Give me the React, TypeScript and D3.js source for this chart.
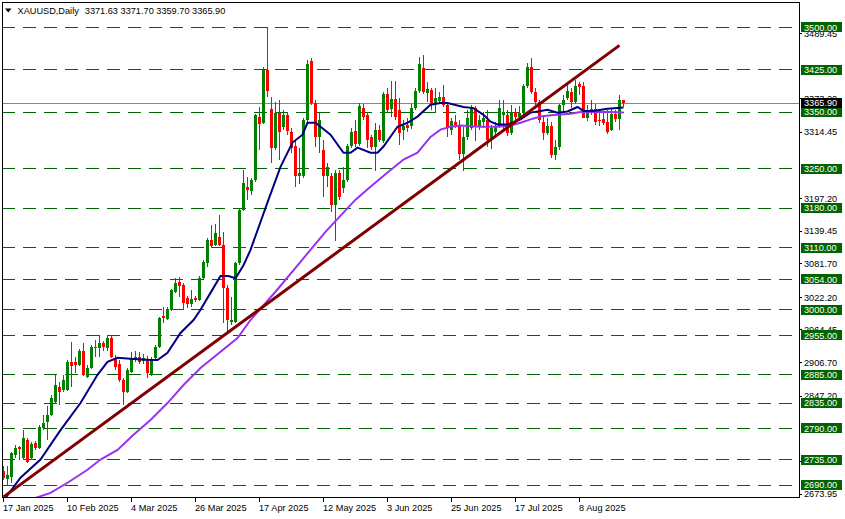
import React, { useEffect } from 'react';
import * as d3 from 'd3';

const W = 845;
const H = 519;

// Daily OHLC, 17 Jan 2025 .. 25 Aug 2025
const opens = [
  2715, 2700, 2705, 2743, 2757, 2738, 2770, 2738, 2764, 2756,
  2791, 2801, 2814, 2837, 2863, 2858, 2858, 2907, 2907, 2902,
  2927, 2881, 2897, 2935, 2932, 2941, 2932, 2951, 2914, 2905,
  2876, 2854, 2890, 2911, 2916, 2909, 2913, 2884, 2914, 2934,
  2989, 2984, 3000, 3032, 3050, 3044, 3021, 3011, 3021, 3018,
  3056, 3083, 3124, 3115, 3129, 3115, 3039, 2979, 2979, 3083,
  3177, 3217, 3210, 3230, 3342, 3331, 3425, 3356, 3287, 3349,
  3324, 3345, 3315, 3290, 3237, 3237, 3336, 3440, 3366, 3306,
  3283, 3236, 3237, 3185, 3243, 3216, 3230, 3290, 3317, 3294,
  3357, 3345, 3305, 3289, 3318, 3298, 3382, 3356, 3373, 3354,
  3318, 3327, 3326, 3357, 3387, 3428, 3384, 3389, 3366, 3370,
  3377, 3363, 3319, 3333, 3327, 3275, 3305, 3322, 3357, 3324,
  3333, 3336, 3301, 3314, 3324, 3345, 3345, 3313, 3350, 3342,
  3349, 3396, 3430, 3386, 3367, 3332, 3313, 3325, 3274, 3288,
  3362, 3374, 3385, 3367, 3399, 3397, 3340, 3349, 3356, 3336,
  3337, 3332, 3318, 3346, 3338, 3371.63,
];
const highs = [
  2724, 2724, 2749, 2761, 2759, 2787, 2773, 2766, 2768, 2796,
  2814, 2830, 2849, 2884, 2872, 2884, 2911, 2943, 2916, 2930,
  2941, 2902, 2937, 2946, 2955, 2944, 2953, 2953, 2920, 2911,
  2879, 2897, 2925, 2928, 2925, 2921, 2918, 2916, 2937, 2988,
  3005, 3005, 3037, 3056, 3058, 3048, 3025, 3035, 3025, 3060,
  3088, 3127, 3150, 3152, 3168, 3138, 3044, 3023, 3085, 3180,
  3247, 3235, 3233, 3347, 3359, 3430, 3500, 3377, 3368, 3372,
  3354, 3350, 3322, 3301, 3287, 3340, 3442, 3446, 3372, 3349,
  3301, 3260, 3243, 3248, 3248, 3253, 3294, 3322, 3336, 3366,
  3364, 3350, 3310, 3331, 3327, 3386, 3393, 3405, 3405, 3375,
  3336, 3340, 3364, 3393, 3447, 3451, 3403, 3393, 3393, 3386,
  3398, 3366, 3340, 3345, 3336, 3324, 3354, 3363, 3361, 3345,
  3350, 3354, 3327, 3333, 3372, 3372, 3354, 3363, 3357, 3361,
  3400, 3437, 3446, 3393, 3372, 3345, 3339, 3332, 3300, 3365,
  3380, 3398, 3392, 3406, 3403, 3403, 3362, 3371, 3364, 3350,
  3350, 3354, 3357, 3353, 3380, 3371.7,
];
const lows = [
  2699, 2690, 2694, 2738, 2734, 2734, 2729, 2734, 2752, 2754,
  2787, 2770, 2812, 2835, 2831, 2854, 2856, 2863, 2888, 2900,
  2883, 2879, 2895, 2916, 2916, 2928, 2928, 2914, 2893, 2872,
  2831, 2853, 2888, 2907, 2904, 2904, 2879, 2883, 2911, 2932,
  2977, 2982, 2998, 3030, 3023, 3000, 3004, 3005, 3014, 3016,
  3055, 3076, 3110, 3113, 3113, 2977, 2960, 2974, 2977, 3080,
  3175, 3194, 3203, 3227, 3283, 3328, 3377, 3260, 3283, 3266,
  3319, 3310, 3278, 3218, 3222, 3234, 3333, 3363, 3289, 3278,
  3199, 3218, 3174, 3121, 3195, 3207, 3227, 3287, 3289, 3290,
  3336, 3287, 3283, 3245, 3297, 3296, 3350, 3342, 3336, 3292,
  3301, 3315, 3320, 3354, 3384, 3382, 3368, 3354, 3349, 3365,
  3359, 3306, 3310, 3322, 3266, 3245, 3301, 3319, 3298, 3319,
  3322, 3289, 3284, 3310, 3322, 3319, 3308, 3310, 3336, 3336,
  3345, 3393, 3382, 3361, 3331, 3300, 3309, 3268, 3265, 3283,
  3350, 3371, 3357, 3364, 3380, 3341, 3335, 3344, 3327, 3325,
  3327, 3311, 3316, 3333, 3318, 3359.7,
];
const closes = [
  2703, 2708, 2747, 2756, 2754, 2773, 2731, 2763, 2756, 2793,
  2800, 2814, 2844, 2867, 2854, 2876, 2907, 2900, 2902, 2927,
  2884, 2897, 2935, 2932, 2941, 2934, 2951, 2916, 2898, 2876,
  2854, 2893, 2914, 2916, 2907, 2914, 2888, 2913, 2934, 2985,
  2986, 3002, 3035, 3048, 3042, 3012, 3011, 3020, 3018, 3056,
  3085, 3124, 3113, 3136, 3115, 3039, 2982, 2982, 3083, 3177,
  3224, 3212, 3230, 3345, 3329, 3425, 3388, 3287, 3349, 3315,
  3345, 3317, 3287, 3237, 3243, 3336, 3435, 3366, 3305, 3336,
  3236, 3252, 3185, 3243, 3200, 3230, 3290, 3315, 3294, 3361,
  3342, 3301, 3289, 3318, 3301, 3382, 3354, 3373, 3342, 3313,
  3326, 3322, 3357, 3387, 3435, 3386, 3391, 3366, 3375, 3377,
  3363, 3324, 3335, 3327, 3275, 3305, 3340, 3359, 3324, 3336,
  3340, 3301, 3322, 3324, 3357, 3350, 3313, 3350, 3342, 3349,
  3396, 3430, 3386, 3367, 3336, 3313, 3325, 3274, 3288, 3362,
  3372, 3388, 3367, 3397, 3394, 3340, 3349, 3356, 3332, 3334,
  3330, 3315, 3346, 3338, 3371, 3365.9,
];

// moving averages: [bar position, price]
const maFast: [number, number][] = [
  [0, 2655], [0.5, 2667], [4.25, 2703], [9.25, 2735], [14.25, 2787], [19.25, 2835],
  [23.5, 2885], [26, 2908], [28.5, 2915], [32.5, 2913], [36.75, 2911], [38.5, 2911],
  [41, 2924], [44.25, 2959], [47.5, 2982], [49.25, 3000], [51.75, 3030], [54.25, 3060],
  [56.25, 3060], [58, 3056], [60, 3079], [61.75, 3106], [66.25, 3195], [69.25, 3253],
  [72.25, 3296], [74.75, 3310], [76, 3331], [78, 3331], [81.75, 3310], [85, 3278],
  [86.75, 3278], [88.5, 3287], [91.75, 3278], [93.5, 3278], [95, 3289], [98.5, 3324],
  [101, 3331], [103.5, 3342], [106.75, 3363], [109.25, 3366], [111, 3366], [115, 3359],
  [117.5, 3357], [120, 3345], [121.75, 3333], [123.5, 3328], [126, 3328], [129.25, 3337],
  [131.75, 3349], [134.25, 3352], [136, 3354], [138.5, 3349], [141, 3351], [143.5, 3359],
  [145, 3352], [147.5, 3352], [151, 3356], [155, 3358],
];
const maSlow: [number, number][] = [
  [4, 2655], [8, 2667], [11.75, 2676], [16, 2694], [21, 2717], [24.25, 2735], [28.5, 2752],
  [32.5, 2779], [36.75, 2805], [41, 2835], [45, 2867], [49.25, 2897], [58.5, 2950],
  [61.75, 2982], [68, 3032], [74.25, 3085], [80.5, 3138], [88, 3195], [91.75, 3218],
  [96, 3243], [100, 3266], [103.5, 3278], [106.75, 3306], [109.25, 3319], [111.75, 3324],
  [114.25, 3326], [119.25, 3324], [123, 3324], [126.75, 3326], [129.25, 3331],
  [131.75, 3337], [134.25, 3342], [137.5, 3345], [141.75, 3347], [144.25, 3350],
  [148.5, 3350], [151.75, 3350], [155, 3349],
];
const trendLine: [number, number][] = [[0, 2669], [154, 3468]];

const levels = [3500, 3425, 3350, 3250, 3180, 3110, 3054, 3000, 2955, 2885, 2835, 2790, 2735, 2690];
const priceTicks = [
  3489.45, 3373.2, 3314.45, 3197.2, 3139.45, 3081.7, 3022.2,
  2964.45, 2906.7, 2847.2, 2731.7, 2673.95,
];
const dateLabels = [
  '17 Jan 2025', '10 Feb 2025', '4 Mar 2025', '26 Mar 2025', '17 Apr 2025',
  '12 May 2025', '3 Jun 2025', '25 Jun 2025', '17 Jul 2025', '8 Aug 2025',
];
const dateBars = [0, 16, 32, 48, 64, 80, 96, 112, 128, 144];
const symbolText = 'XAUUSD,Daily';
const ohlcText = '3371.63 3371.70 3359.70 3365.90';
const lastPrice = 3365.9;

const FONT = '"Liberation Sans", Arial, sans-serif';
const PL = 2, PR = 799, PT = 2, PB = 498;

export default function App() {
  useEffect(() => {
    document.body.style.margin = '0';
  }, []);

  const x = d3.scaleLinear().domain([0, 155]).range([3, 623]);
  const y = d3.scaleLinear().domain([2690, 3500]).range([485, 27.3]);
  const py = (v: number) => Math.floor(y(v)) + 0.5;

  const line = d3
    .line<[number, number]>()
    .x((d) => x(d[0]) + 0.5)
    .y((d) => y(d[1]))
    .curve(d3.curveLinear);

  const candles = opens.map((o, i) => {
    const c = closes[i];
    const up = c >= o;
    const col = up ? '#008000' : '#ff0000';
    const xc = Math.round(x(i));
    const top = Math.round(y(Math.max(o, c)));
    const bot = Math.round(y(Math.min(o, c)));
    return (
      <g key={i}>
        <line x1={xc + 0.5} x2={xc + 0.5} y1={Math.round(y(highs[i]))} y2={Math.round(y(lows[i]))} stroke={col} strokeWidth={1} />
        <rect x={xc - 1} y={top} width={3} height={Math.max(1, bot - top)} fill={col} />
      </g>
    );
  });

  return (
    <svg width={W} height={H} style={{ position: 'absolute', left: 0, top: 0, background: '#fff' }} fontFamily={FONT}>
      <defs>
        <clipPath id="plot">
          <rect x={PL + 0.5} y={PT + 0.5} width={PR - PL - 0.5} height={PB - PT - 0.5} />
        </clipPath>
      </defs>
      <rect x={0} y={0} width={W} height={H} fill="#ffffff" />
      <g clipPath="url(#plot)">
        {levels.map((v) => (
          <line key={v} x1={PL} x2={PR} y1={py(v)} y2={py(v)} stroke="#006400" strokeWidth={1} strokeDasharray="13 8" shapeRendering="crispEdges" />
        ))}
        <line x1={PL} x2={PR} y1={py(lastPrice)} y2={py(lastPrice)} stroke="#778899" strokeWidth={1} shapeRendering="crispEdges" />
        <g shapeRendering="crispEdges">{candles}</g>
        <path d={line(maSlow) || ''} fill="none" stroke="#9932f0" strokeWidth={2} />
        <path d={line(maFast) || ''} fill="none" stroke="#000080" strokeWidth={2} />
        <path d={line(trendLine) || ''} fill="none" stroke="#800000" strokeWidth={3} />
      </g>
      {/* frame */}
      <path d={`M${PL + 0.5},${PB - 0.5}V${PT + 0.5}H${PR + 0.5}V${PB - 0.5}H${PL + 0.5}`} fill="none" stroke="#000" strokeWidth={1} shapeRendering="crispEdges" />
      {/* header */}
      <rect x={3} y={3} width={232} height={14} fill="#fff" />
      <path d="M5,8.5 L11.5,8.5 L8.25,12.5 Z" fill="#000" />
      <text x={17.5} y={14} fontSize={9.2} fill="#000">
        {symbolText}
        <tspan dx={6}>{ohlcText}</tspan>
      </text>
      {/* price axis ticks */}
      {priceTicks.map((v) => (
        <g key={v}>
          <line x1={PR} x2={PR + 3} y1={py(v)} y2={py(v)} stroke="#000" shapeRendering="crispEdges" />
          <text x={804} y={y(v) + 3.3} fontSize={9.2} fill="#000">
            {v.toFixed(2)}
          </text>
        </g>
      ))}
      {/* level labels */}
      {levels.map((v) => (
        <g key={'l' + v}>
          <rect x={801} y={Math.round(y(v)) - 5} width={41} height={10} fill="#006400" />
          <text x={804} y={y(v) + 3.3} fontSize={9.2} fill="#fff">
            {v.toFixed(2)}
          </text>
        </g>
      ))}
      <rect x={801} y={Math.round(y(lastPrice)) - 5} width={41} height={10} fill="#000" />
      <text x={804} y={y(lastPrice) + 3.3} fontSize={9.2} fill="#fff">
        {lastPrice.toFixed(2)}
      </text>
      {/* date axis */}
      {dateBars.map((b, i) => (
        <g key={b}>
          <line x1={Math.round(x(b)) + 0.5} x2={Math.round(x(b)) + 0.5} y1={PB} y2={PB + 4} stroke="#000" shapeRendering="crispEdges" />
          <text x={Math.round(x(b))} y={511} fontSize={9.2} fill="#000">
            {dateLabels[i]}
          </text>
        </g>
      ))}
    </svg>
  );
}
